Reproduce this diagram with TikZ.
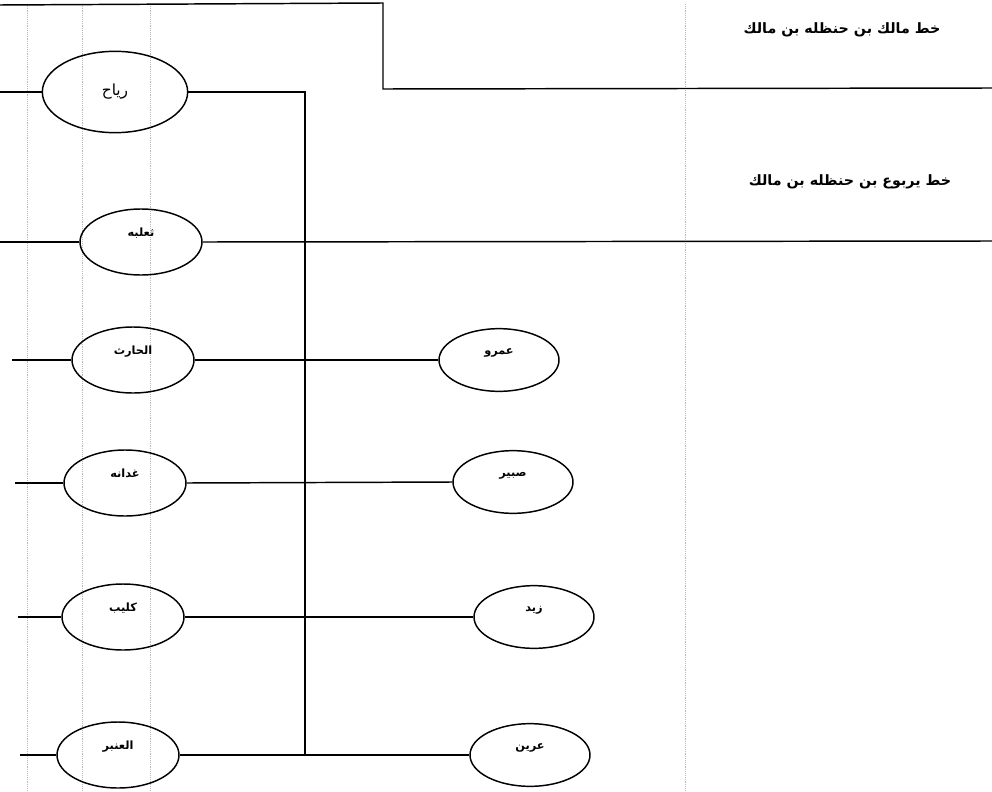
\documentclass[tikz,border=0pt]{standalone}
\usepackage{fontspec}
\newfontfamily\arabicfont[Script=Arabic]{DejaVu Sans}
\TeXXeTstate=1
\usetikzlibrary{shapes.geometric}
\newcommand{\ar}[1]{\beginR #1\endR}
\tikzset{
	fils/.style={ellipse, draw, line width=1.1pt, inner sep=0pt,
		minimum width=91.5pt, minimum height=49.5pt,
		font=\arabicfont\bfseries\fontsize{8.5}{10}\selectfont, text height=7pt, text depth=15pt},
	fild/.style={fils, minimum width=90pt, minimum height=47pt},
	trait/.style={line width=1.1pt},
	grille/.style={gray!55, densely dotted, line width=0.4pt},
	titre/.style={font=\arabicfont\bfseries\fontsize{10.7}{12}\selectfont}
}

\begin{document}
\begin{tikzpicture}[x=0.75pt,y=-0.75pt]
	\useasboundingbox (0,0) rectangle (992,792);
	% faint grid of the scan
	\foreach \x in {27,82,150,685} {
		\draw[grille] (\x,4) -- (\x,790);
	}
	% frame of the two lines
	\coordinate (hautG) at (0,5);
	\coordinate (hautD) at (383,3);
	\coordinate (coin) at (383,89);
	\coordinate (bordH) at (992,88);
	\draw[trait] (hautG) -- (hautD) -- (coin) -- (bordH);
	\node[titre] (malik) at (842,30) {\ar{خط مالك بن حنظله بن مالك}};
	\node[titre] (yarbu) at (850,182) {\ar{خط يربوع بن حنظله بن مالك}};
	
	% Riyah and the trunk
	\node[fils, minimum width=109pt, minimum height=61pt, text height=9pt, text depth=4pt,
		font=\arabicfont\fontsize{11.5}{13}\selectfont] (riyah) at (115,92) {\ar{رياح}};
	\coordinate (gRiyah) at (0,92);
	\coordinate (troncH) at (305,92);
	\coordinate (troncB) at (305,756);
	\draw[trait] (gRiyah) -- (riyah.west);
	\draw[trait] (riyah.east) -- (troncH) -- (troncB);
	
	% Thaalaba on the long line
	\node[fils] (thaalaba) at (141,242) {\ar{ثعلبه}};
	\coordinate (gThaalaba) at (0,242);
	\coordinate (dThaalaba) at (992,241);
	\draw[trait] (gThaalaba) -- (thaalaba.west);
	\draw[trait] (thaalaba.east) -- (dThaalaba);
	
	% sons on the left, sons on the right
	\foreach \nom/\x/\y/\gx/\txt in {harith/133/360/12/الحارث, ghudana/125/483/15/غدانه,
		kulaib/123/617/18/كليب, anbar/118/755/20/العنبر} {
		\node[fils] (\nom) at (\x,\y) {\ar{\txt}};
		\coordinate (g\nom) at (\gx,\y);
		\draw[trait] (g\nom) -- (\nom.west);
	}
	\foreach \nom/\x/\y/\txt in {amr/499/360/عمرو, sabir/513/482/صبير,
		zaid/534/617/زيد, arin/530/755/عرين} {
		\node[fild] (\nom) at (\x,\y) {\ar{\txt}};
	}
	\draw[trait] (harith.east) -- (amr.west);
	\draw[trait] (ghudana.east) -- (sabir.west);
	\draw[trait] (kulaib.east) -- (zaid.west);
	\draw[trait] (anbar.east) -- (arin.west);
\end{tikzpicture}
\end{document}
